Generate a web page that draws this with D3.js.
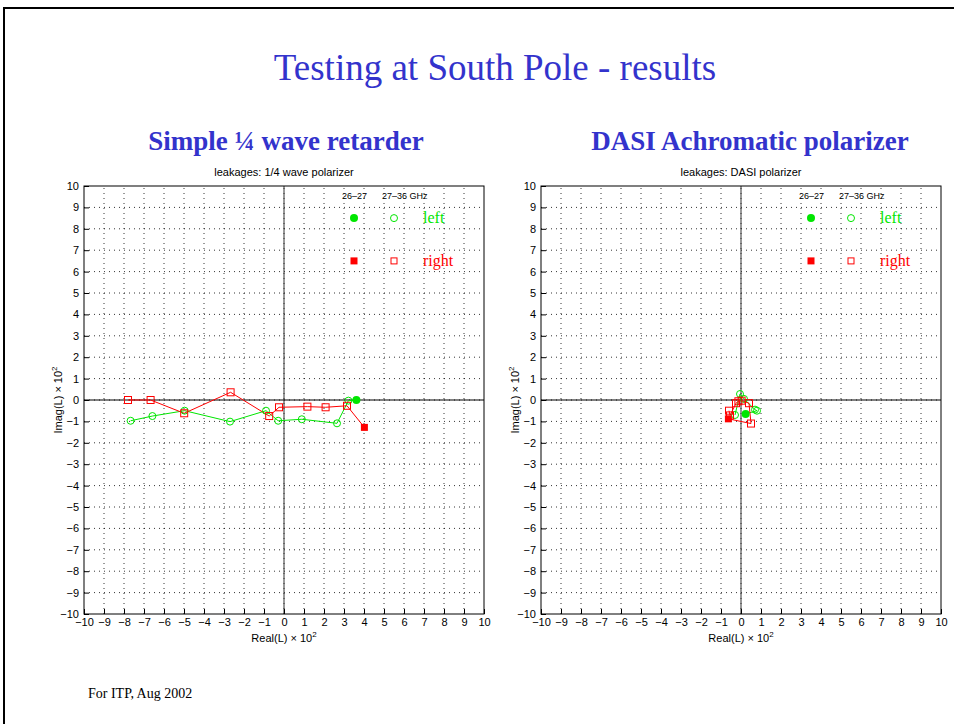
<!DOCTYPE html>
<html lang="en">
<head>
<meta charset="UTF-8">
<title>Testing at South Pole - results</title>
<script src="https://d3js.org/d3.v7.min.js"></script>
<style>
  body { margin: 0; background: #fff; }
  .ttl { font-family: "Liberation Serif", "DejaVu Serif", serif; fill: #3333cc; }
  .tick text, .small { font-family: "Liberation Sans", Arial, sans-serif; font-size: 11px; fill: #000; }
</style>
</head>
<body>
<div id="slide"></div>
<script>
// tick values (same on both axes)
var ticks = d3.range(-10, 11);

// left panel: simple 1/4 wave retarder (Real, Imag) x 10^2
var leftRightOpen  = [[-7.8,0.0],[-6.67,0.0],[-4.99,-0.62],[-2.67,0.36],[-0.74,-0.75],[-0.25,-0.34],[1.17,-0.31],[2.08,-0.34],[3.15,-0.27]];
var leftRightFill  = [[4.02,-1.28]];
var leftLeftOpen   = [[-7.67,-0.97],[-6.58,-0.75],[-4.97,-0.5],[-2.7,-1.01],[-0.9,-0.5],[-0.29,-0.97],[0.89,-0.9],[2.65,-1.09],[3.22,-0.03]];
var leftLeftFill   = [[3.62,0.0]];

// right panel: DASI achromatic polarizer
var dasiRightOpen  = [[-0.6,-0.5],[-0.55,-0.72],[-0.25,-0.15],[-0.13,-0.06],[0.03,-0.03],[0.4,-0.15],[0.5,-1.1]];
var dasiRightFill  = [[-0.63,-0.88]];
var dasiLeftOpen   = [[-0.3,-0.7],[-0.05,0.28],[0.15,0.05],[0.7,-0.45],[0.8,-0.5]];
var dasiLeftFill   = [[0.23,-0.65]];

var W = 954, H = 724;
var GREEN = "#00e600", RED = "#ff0000";

var svg = d3.select("#slide").append("svg")
  .attr("width", W).attr("height", H);

// slide frame
svg.append("path").attr("d", "M4,724 V8 H954")
  .attr("fill", "none").attr("stroke", "#000").attr("stroke-width", 2);

svg.append("text").attr("class", "ttl")
  .attr("x", 495).attr("y", 80).attr("text-anchor", "middle")
  .style("font-size", "37px").text("Testing at South Pole - results");

svg.append("text")
  .attr("x", 88).attr("y", 698)
  .style("font-family", "Liberation Serif, serif").style("font-size", "14px")
  .text("For ITP, Aug 2002");

function panel(x0, headX, heading, title, rOpen, rFill, lOpen, lFill) {
  var x = d3.scaleLinear().domain([-10, 10]).range([x0, x0 + 400]);
  var y = d3.scaleLinear().domain([-10, 10]).range([614, 186]);
  var g = svg.append("g");

  g.append("text").attr("class", "ttl")
    .attr("x", headX).attr("y", 150).attr("text-anchor", "middle")
    .style("font-size", "27px").style("font-weight", "bold").text(heading);
  g.append("text").attr("class", "small")
    .attr("x", x(0)).attr("y", 176).attr("text-anchor", "middle").text(title);

  // dotted grid
  g.append("g").selectAll("line").data(ticks.slice(1, -1)).join("line")
    .attr("x1", function(d) { return x(d); }).attr("x2", function(d) { return x(d); })
    .attr("y1", y(-10)).attr("y2", y(10))
    .attr("stroke", "#000").attr("stroke-width", 0.8).attr("stroke-dasharray", "1,4");
  g.append("g").selectAll("line").data(ticks.slice(1, -1)).join("line")
    .attr("y1", function(d) { return y(d); }).attr("y2", function(d) { return y(d); })
    .attr("x1", x(-10)).attr("x2", x(10))
    .attr("stroke", "#000").attr("stroke-width", 0.8).attr("stroke-dasharray", "1,4");

  // zero lines
  g.append("line").attr("x1", x(0)).attr("x2", x(0)).attr("y1", y(-10)).attr("y2", y(10))
    .attr("stroke", "#333").attr("stroke-width", 1);
  g.append("line").attr("x1", x(-10)).attr("x2", x(10)).attr("y1", y(0)).attr("y2", y(0))
    .attr("stroke", "#000").attr("stroke-width", 1);

  // box + axes
  g.append("rect").attr("x", x(-10)).attr("y", y(10))
    .attr("width", x(10) - x(-10)).attr("height", y(-10) - y(10))
    .attr("fill", "none").attr("stroke", "#000");
  var fmt = function(d) { return d < 0 ? "\u2212" + (-d) : d; };
  g.append("g").attr("transform", "translate(0," + y(-10) + ")")
    .call(d3.axisBottom(x).tickValues(ticks).tickFormat(fmt).tickSize(-5).tickPadding(4))
    .call(function(a) { a.select(".domain").remove(); });
  g.append("g").attr("transform", "translate(" + x(-10) + ",0)")
    .call(d3.axisLeft(y).tickValues(ticks).tickFormat(fmt).tickSize(-5).tickPadding(5))
    .call(function(a) { a.select(".domain").remove(); });
  g.selectAll(".tick text").style("font-size", "11px");

  // axis labels
  var xl = g.append("text").attr("class", "small")
    .attr("x", x(0)).attr("y", 642).attr("text-anchor", "middle");
  xl.append("tspan").text("Real(L) \u00d7 10");
  xl.append("tspan").attr("dy", -5).style("font-size", "8px").text("2");
  var yl = g.append("text").attr("class", "small")
    .attr("transform", "translate(" + (x0 - 22) + "," + y(0) + ") rotate(-90)")
    .attr("text-anchor", "middle");
  yl.append("tspan").text("Imag(L) \u00d7 10");
  yl.append("tspan").attr("dy", -5).style("font-size", "8px").text("2");

  var line = d3.line().x(function(d) { return x(d[0]); }).y(function(d) { return y(d[1]); });

  // connecting lines
  g.append("path").attr("d", line(lOpen.concat(lFill)))
    .attr("fill", "none").attr("stroke", GREEN).attr("stroke-width", 1);
  g.append("path").attr("d", line(rOpen.concat(rFill)))
    .attr("fill", "none").attr("stroke", RED).attr("stroke-width", 1);

  // markers
  g.append("g").selectAll("circle").data(lOpen).join("circle")
    .attr("cx", function(d) { return x(d[0]); }).attr("cy", function(d) { return y(d[1]); })
    .attr("r", 3.5).attr("fill", "none").attr("stroke", GREEN);
  g.append("g").selectAll("rect").data(rOpen).join("rect")
    .attr("x", function(d) { return x(d[0]) - 3.5; }).attr("y", function(d) { return y(d[1]) - 3.5; })
    .attr("width", 7).attr("height", 7).attr("fill", "none").attr("stroke", RED);
  g.append("g").selectAll("circle").data(lFill).join("circle")
    .attr("cx", function(d) { return x(d[0]); }).attr("cy", function(d) { return y(d[1]); })
    .attr("r", 4).attr("fill", GREEN);
  g.append("g").selectAll("rect").data(rFill).join("rect")
    .attr("x", function(d) { return x(d[0]) - 3.5; }).attr("y", function(d) { return y(d[1]) - 3.5; })
    .attr("width", 7).attr("height", 7).attr("fill", RED);

  // legend
  g.append("text").attr("x", x(2.9)).attr("y", y(9.4)).style("font-family", "Liberation Sans, sans-serif")
    .style("font-size", "9px").text("26\u201327");
  g.append("text").attr("x", x(4.9)).attr("y", y(9.4)).style("font-family", "Liberation Sans, sans-serif")
    .style("font-size", "9px").text("27\u201336  GHz");
  g.append("circle").attr("cx", x(3.5)).attr("cy", y(8.5)).attr("r", 4).attr("fill", GREEN);
  g.append("circle").attr("cx", x(5.5)).attr("cy", y(8.5)).attr("r", 3.5).attr("fill", "none").attr("stroke", GREEN);
  g.append("rect").attr("x", x(3.5) - 3.5).attr("y", y(6.5) - 3.5).attr("width", 7).attr("height", 7).attr("fill", RED);
  g.append("rect").attr("x", x(5.5) - 3).attr("y", y(6.5) - 3).attr("width", 6).attr("height", 6)
    .attr("fill", "none").attr("stroke", RED);
  g.append("text").attr("x", x(6.95)).attr("y", y(8.5) + 5).attr("fill", GREEN)
    .style("font-family", "Liberation Serif, serif").style("font-size", "16px").text("left");
  g.append("text").attr("x", x(6.95)).attr("y", y(6.5) + 5).attr("fill", RED)
    .style("font-family", "Liberation Serif, serif").style("font-size", "16px").text("right");
}

panel(84, 286, "Simple \u00bc wave retarder", "leakages: 1/4 wave polarizer",
  leftRightOpen, leftRightFill, leftLeftOpen, leftLeftFill);
panel(541, 750, "DASI Achromatic polarizer", "leakages: DASI polarizer",
  dasiRightOpen, dasiRightFill, dasiLeftOpen, dasiLeftFill);
</script>
</body>
</html>
